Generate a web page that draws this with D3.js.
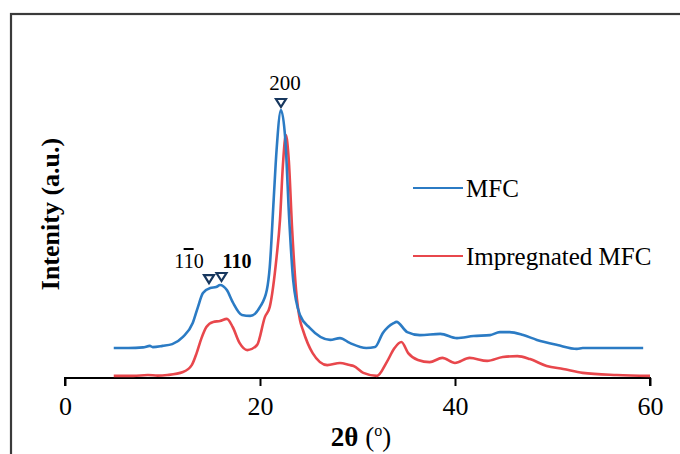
<!DOCTYPE html>
<html><head><meta charset="utf-8">
<script src="https://cdn.jsdelivr.net/npm/d3@7"></script>
<style>html,body{margin:0;padding:0;background:#fff;}svg{display:block;}</style>
</head><body>
<svg id="chart" width="680" height="454"></svg>
<script>
// 2θ values and intensities (a.u.)
const mfcTheta = [5.0,6.5,8.0,8.7,9.0,10.0,11.0,12.1,13.1,13.6,14.15,14.9,15.5,15.9,16.6,17.2,18.15,19.0,20.0,20.7,21.0,21.4,21.7,22.15,22.6,23.0,23.4,24.1,25.1,27.2,28.2,29.2,30.9,31.8,32.6,33.7,34.0,35.1,36.4,38.5,40.2,41.9,43.6,44.6,45.6,47.0,48.4,50.5,52.5,53.1,59.3];
const mfcI     = [10.0,10.0,10.2,10.7,10.3,10.7,11.3,13.7,18.3,23.3,28.3,30.0,30.3,31.0,29.3,25.3,21.0,20.7,23.7,29.3,37.0,59.3,76.0,89.3,79.3,52.7,32.7,21.0,16.7,12.7,13.3,11.7,10.0,10.3,15.0,18.3,18.7,15.3,14.3,14.7,13.3,14.0,14.3,15.3,15.3,14.3,12.7,11.0,9.7,10.0,10.0];
const impTheta = [5.0,7.0,8.5,9.5,10.5,12.1,13.0,13.5,14.0,14.5,15.2,15.9,16.6,17.2,17.9,18.7,19.7,20.5,21.0,21.7,22.05,22.35,22.65,22.95,23.3,23.7,24.1,24.4,25.4,26.9,28.2,29.2,29.6,30.6,32.0,33.0,33.8,34.5,35.2,36.2,37.4,38.7,40.0,41.5,43.3,44.9,46.4,47.7,49.4,51.1,53.1,56.6,60.0];
const impI     = [0.7,0.7,1.0,0.8,1.0,2.0,4.3,8.3,13.3,17.0,18.7,19.0,19.7,17.0,11.7,9.3,11.0,20.3,23.7,40.3,52.7,71.0,81.0,72.7,49.3,29.3,19.3,16.0,8.3,4.3,5.0,4.3,4.0,1.7,0.7,5.3,10.0,12.0,8.3,6.0,5.3,6.7,5.0,6.7,5.7,7.0,7.3,6.3,4.0,3.0,1.7,1.0,0.7];
const seriesNames = ["MFC","Impregnated MFC"];
const xTicks = [0,20,40,60];
// peak markers (1-10, 110, 200)
const peakTheta = [14.77,16.05,22.15];
const peakI = [34.3,35.0,93.0];

const W=680,H=454;
const svg=d3.select("#chart");
const x=d3.scaleLinear().domain([0,60]).range([65,650]);
const y=d3.scaleLinear().domain([0,100]).range([378,78]);
const serif='"Liberation Serif","Times New Roman",serif';
const colors=["#2b7bc4","#e8474c"];

// outer frame
svg.append("rect").attr("x",11).attr("y",14).attr("width",700).attr("height",500)
  .attr("fill","none").attr("stroke","#3a3a3a").attr("stroke-width",2.2);

// x axis
const xa=svg.append("g").attr("transform","translate(0,378)")
  .call(d3.axisBottom(x).tickValues(xTicks).tickSize(8).tickPadding(10).tickFormat(d3.format("d")));
xa.select(".domain").attr("stroke","#000").attr("stroke-width",2).attr("d","M65,8V0H650V8");
xa.selectAll(".tick line").attr("stroke","#000").attr("stroke-width",2);
xa.selectAll(".tick text").attr("font-family",serif).attr("font-size",26).attr("fill","#000").attr("dy","0.72em");

// lines
const line=d3.line().x(d=>x(d[0])).y(d=>y(d[1])).curve(d3.curveMonotoneX);
const series=[d3.zip(mfcTheta,mfcI), d3.zip(impTheta,impI)];
svg.append("path").datum(series[1]).attr("d",line).attr("fill","none").attr("stroke",colors[1]).attr("stroke-width",2.6).attr("stroke-linejoin","round");
svg.append("path").datum(series[0]).attr("d",line).attr("fill","none").attr("stroke",colors[0]).attr("stroke-width",2.6).attr("stroke-linejoin","round");

// peak markers: open downward triangles
peakTheta.forEach((t,i)=>{
  const cx=x(t), ty=y(peakI[i]);
  svg.append("path").attr("d",`M${cx-5},${ty}L${cx+5},${ty}L${cx},${ty+8}Z`)
    .attr("fill","#fff").attr("stroke","#17375e").attr("stroke-width",2.2).attr("stroke-linejoin","miter");
});

// peak labels
svg.append("text").attr("x",285).attr("y",90).attr("text-anchor","middle")
  .attr("font-family",serif).attr("font-size",21).text("200");
svg.append("text").attr("x",237).attr("y",268).attr("text-anchor","middle")
  .attr("font-family",serif).attr("font-size",20).attr("font-weight","bold").text("110");
const t1=svg.append("text").attr("x",189).attr("y",268).attr("text-anchor","middle")
  .attr("font-family",serif).attr("font-size",20);
t1.append("tspan").text("1");
t1.append("tspan").style("text-decoration","overline").text("1");
t1.append("tspan").text("0");

// legend
const lg=[{y:188,ty:197},{y:256,ty:265}];
seriesNames.forEach((n,i)=>{
  svg.append("line").attr("x1",413).attr("x2",463).attr("y1",lg[i].y).attr("y2",lg[i].y)
    .attr("stroke",colors[i]).attr("stroke-width",2.2);
  svg.append("text").attr("x",466).attr("y",lg[i].ty).attr("font-family",serif)
    .attr("font-size",25).attr("fill","#000").text(n);
});

// axis titles
const xt=svg.append("text").attr("x",361).attr("y",446).attr("text-anchor","middle")
  .attr("font-family",serif).attr("font-size",27);
xt.append("tspan").attr("font-weight","bold").text("2θ ");
xt.append("tspan").text("(");
xt.append("tspan").attr("font-size",16).attr("dy",-10).text("o");
xt.append("tspan").attr("dy",10).text(")");

svg.append("text").attr("transform","translate(59,214) rotate(-90)").attr("text-anchor","middle")
  .attr("font-family",serif).attr("font-size",26).attr("font-weight","bold").text("Intenity (a.u.)");
</script>
</body></html>
